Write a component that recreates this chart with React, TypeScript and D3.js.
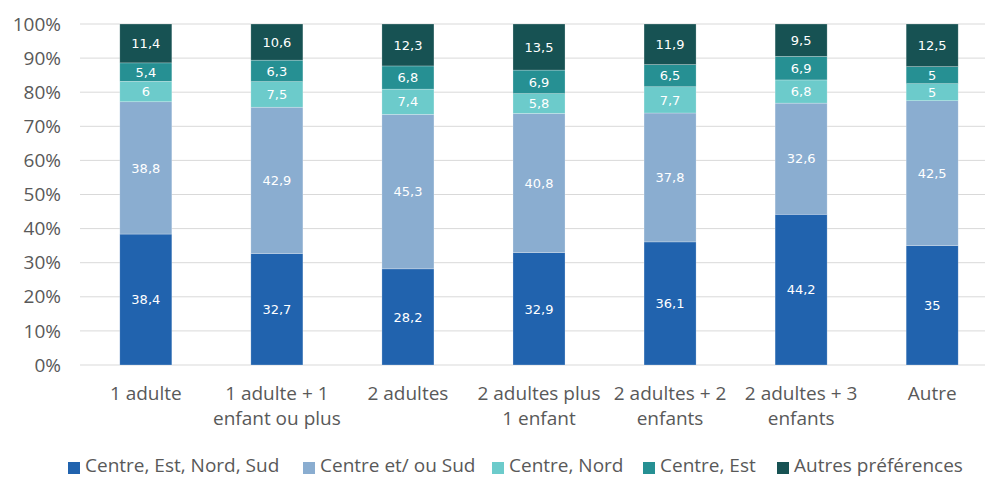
import React from "react";
import * as d3 from "d3";

const categories = [
  ["1 adulte"],
  ["1 adulte + 1", "enfant ou plus"],
  ["2 adultes"],
  ["2 adultes plus", "1 enfant"],
  ["2 adultes + 2", "enfants"],
  ["2 adultes + 3", "enfants"],
  ["Autre"],
];
const seriesNames = ["Centre, Est, Nord, Sud", "Centre et/ ou Sud", "Centre, Nord", "Centre, Est", "Autres préférences"];
const centreEstNordSud = [38.4, 32.7, 28.2, 32.9, 36.1, 44.2, 35];
const centreEtOuSud = [38.8, 42.9, 45.3, 40.8, 37.8, 32.6, 42.5];
const centreNord = [6, 7.5, 7.4, 5.8, 7.7, 6.8, 5];
const centreEst = [5.4, 6.3, 6.8, 6.9, 6.5, 6.9, 5];
const autres = [11.4, 10.6, 12.3, 13.5, 11.9, 9.5, 12.5];
const colors = ["#2163AE", "#8AADD0", "#6CCBCB", "#269093", "#175253"];
const yTicks = [0, 10, 20, 30, 40, 50, 60, 70, 80, 90, 100];

export default function App() {
  const W = 985, H = 477;
  const series = [centreEstNordSud, centreEtOuSud, centreNord, centreEst, autres];
  const x = d3.scaleBand<number>().domain(d3.range(categories.length)).range([80.5, 997.5]).paddingInner(0.603).paddingOuter(0.3);
  const y = d3.scaleLinear().domain([0, 100]).range([365, 24]);
  const fmt = (v: number) => String(v).replace(".", ",");
  const bars: any[] = [];
  categories.forEach((_, i) => {
    const total = d3.sum(series, (s) => s[i]);
    let acc = 0;
    series.forEach((s, k) => {
      const v0 = (acc / total) * 100;
      acc += s[i];
      const v1 = (acc / total) * 100;
      bars.push({ i, k, v0, v1, val: s[i] });
    });
  });
  const legendX = [68, 303, 492, 643, 777];
  const font = "'Open Sans', sans-serif";
  return (
    <svg width={W} height={H} style={{ position: "absolute", left: 0, top: 0 }}>
      <rect width={W} height={H} fill="#fff" />
      {yTicks.map((t) => (
        <g key={t}>
          <line x1={80} x2={985} y1={y(t)} y2={y(t)} stroke="#D9D9D9" strokeWidth={1} />
          <text x={61} y={y(t)} dy="0.35em" textAnchor="end" fontFamily={font} fontSize={19} fill="#595959">{t}%</text>
        </g>
      ))}
      {bars.map((b, j) => (
        <rect key={j} x={x(b.i)} width={x.bandwidth()} y={y(b.v1)} height={y(b.v0) - y(b.v1)} fill={colors[b.k]} stroke="#ffffff" strokeOpacity={0.4} strokeWidth={0.6} />
      ))}
      {bars.map((b, j) => (
        <text key={"l" + j} x={(x(b.i) as number) + x.bandwidth() / 2} y={(y(b.v0) + y(b.v1)) / 2} dy="0.36em" textAnchor="middle" fontFamily="'DejaVu Sans', sans-serif" fontSize={13} fill="#ffffff">{fmt(b.val)}</text>
      ))}
      {categories.map((c, i) => (
        <text key={"c" + i} x={(x(i) as number) + x.bandwidth() / 2} y={400} textAnchor="middle" fontFamily={font} fontSize={19} fill="#595959">
          {c.map((line, li) => (
            <tspan key={li} x={(x(i) as number) + x.bandwidth() / 2} dy={li === 0 ? 0 : 25}>{line}</tspan>
          ))}
        </text>
      ))}
      {seriesNames.map((n, k) => (
        <g key={"g" + k}>
          <rect x={legendX[k]} y={462} width={12} height={12} fill={colors[k]} />
          <text x={legendX[k] + 17} y={472} fontFamily={font} fontSize={19} fill="#595959">{n}</text>
        </g>
      ))}
    </svg>
  );
}
